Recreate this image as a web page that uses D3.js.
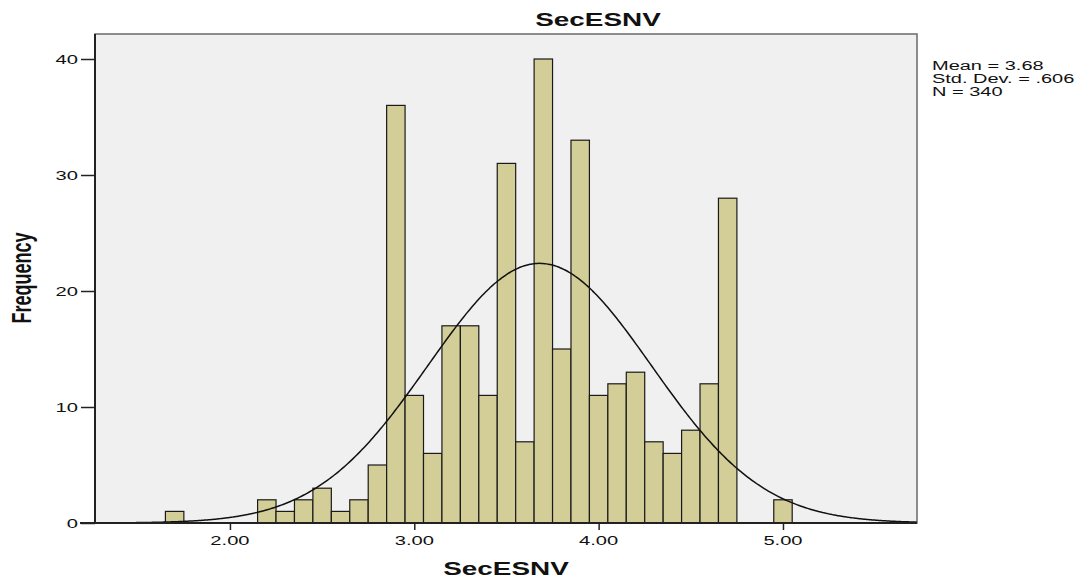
<!DOCTYPE html>
<html>
<head>
<meta charset="utf-8">
<script src="https://cdn.jsdelivr.net/npm/d3@7"></script>
<style>
  body { margin: 0; background: #fff; }
  text { font-family: "Liberation Sans", Arial, sans-serif; fill: #111; }
</style>
</head>
<body>
<div id="chart"></div>
<script>
// bin centres (width 0.1) and their frequencies
const binCenters = [1.7, 1.8, 1.9, 2.0, 2.1, 2.2, 2.3, 2.4, 2.5, 2.6, 2.7, 2.8, 2.9, 3.0, 3.1, 3.2, 3.3,
  3.4, 3.5, 3.6, 3.7, 3.8, 3.9, 4.0, 4.1, 4.2, 4.3, 4.4, 4.5, 4.6, 4.7, 4.8, 4.9, 5.0];
const counts = [1, 0, 0, 0, 0, 2, 1, 2, 3, 1, 2, 5, 36, 11, 6, 17, 17,
  11, 31, 7, 40, 15, 33, 11, 12, 13, 7, 6, 8, 12, 28, 0, 0, 2];
const binWidth = 0.1;
const xTicks = [2, 3, 4, 5];
const yTicks = [0, 10, 20, 30, 40];
const stats = { mean: 3.68, sd: 0.606, n: 340 };
const statLines = ['Mean = 3.68', 'Std. Dev. = .606', 'N = 340'];

const W = 1089, H = 578;
const pLeft = 95, pRight = 917, pTop = 34, pBottom = 523;
const stretch = 1.55; // the reference text is widened horizontally

const svg = d3.select('#chart').append('svg').attr('width', W).attr('height', H);

const x = d3.scaleLinear().domain([1.268, 5.727]).range([pLeft, pRight]);
const y = d3.scaleLinear().domain([0, 40]).range([pBottom, 59]);

// plot background
svg.append('rect')
  .attr('x', pLeft).attr('y', pTop)
  .attr('width', pRight - pLeft).attr('height', pBottom - pTop)
  .attr('fill', '#f0f0f0')
  .attr('stroke', '#6a6a6a').attr('stroke-width', 1.5);

// bars
svg.append('g').selectAll('rect')
  .data(binCenters.map((c, i) => ({ c: c, n: counts[i] })).filter(d => d.n > 0))
  .enter().append('rect')
  .attr('x', d => x(d.c - binWidth / 2))
  .attr('y', d => y(d.n))
  .attr('width', d => x(d.c + binWidth / 2) - x(d.c - binWidth / 2))
  .attr('height', d => y(0) - y(d.n))
  .attr('fill', '#d3ce97')
  .attr('stroke', '#1a1a1a')
  .attr('stroke-width', 1.2);

// normal curve from the summary stats
const scale = stats.n * binWidth / (stats.sd * Math.sqrt(2 * Math.PI));
const curve = d3.range(x.domain()[0], x.domain()[1], 0.01).concat([x.domain()[1]])
  .map(v => [v, scale * Math.exp(-0.5 * Math.pow((v - stats.mean) / stats.sd, 2))]);
svg.append('path')
  .datum(curve)
  .attr('fill', 'none')
  .attr('stroke', '#111')
  .attr('stroke-width', 1.5)
  .attr('d', d3.line().x(d => x(d[0])).y(d => y(d[1])).curve(d3.curveBasis));

// axes
const yAxis = svg.append('g').attr('transform', 'translate(' + pLeft + ',0)')
  .call(d3.axisLeft(y).tickValues(yTicks).tickSize(14).tickFormat(''));
const xAxis = svg.append('g').attr('transform', 'translate(0,' + pBottom + ')')
  .call(d3.axisBottom(x).tickValues(xTicks).tickSize(7).tickFormat(''));
[yAxis, xAxis].forEach(a => {
  a.select('.domain').remove();
  a.selectAll('.tick line').attr('stroke', '#222').attr('stroke-width', 1.5);
});
svg.append('line').attr('x1', pLeft).attr('x2', pLeft).attr('y1', pTop).attr('y2', pBottom)
  .attr('stroke', '#222').attr('stroke-width', 2);
svg.append('line').attr('x1', 80).attr('x2', pRight).attr('y1', pBottom).attr('y2', pBottom)
  .attr('stroke', '#222').attr('stroke-width', 2);

function wideText(tx, ty, str, size, anchor, weight, sx) {
  return svg.append('text')
    .attr('transform', 'translate(' + tx + ',' + ty + ') scale(' + (sx || stretch) + ',1)')
    .attr('text-anchor', anchor)
    .attr('font-size', size)
    .attr('font-weight', weight || 'normal')
    .text(str);
}

yTicks.forEach(t => wideText(78, y(t) + 5, t, 13, 'end'));
xTicks.forEach(t => wideText(x(t), 545, d3.format('.2f')(t), 13, 'middle'));

wideText(598, 26, 'SecESNV', 18, 'middle', 'bold');
wideText(506, 575, 'SecESNV', 18, 'middle', 'bold');

svg.append('text')
  .attr('transform', 'translate(31,278) scale(' + stretch + ',1) rotate(-90)')
  .attr('text-anchor', 'middle')
  .attr('font-size', 18)
  .attr('font-weight', 'bold')
  .text('Frequency');

statLines.forEach((s, i) => wideText(932, 70 + i * 13, s, 12.5, 'start', 'normal', 1.6));
</script>
</body>
</html>
